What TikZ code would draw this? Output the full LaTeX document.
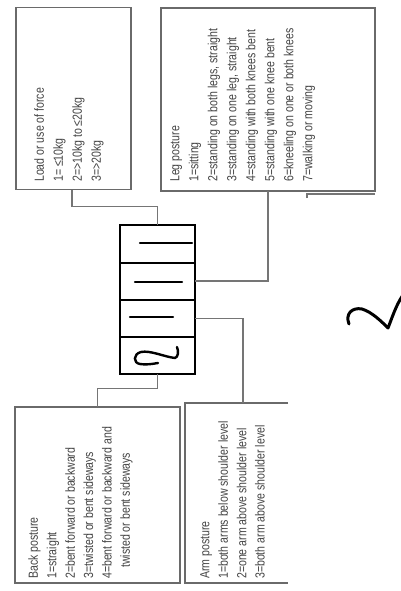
\documentclass[tikz,border=0pt]{standalone}
\usepackage{fontspec}
\newfontfamily\nf{Liberation Sans}[FakeStretch=0.8]
\definecolor{bordergray}{HTML}{6A6A6A}
\definecolor{linegray}{HTML}{757575}
\definecolor{txtgray}{HTML}{454545}
\begin{document}
\begin{tikzpicture}[x=1pt,y=-1pt,
  box/.style={draw=bordergray, line width=1.8pt, inner sep=0pt, outer sep=0pt, rectangle},
  cell/.style={draw=black, line width=2.2pt, inner sep=0pt, outer sep=0pt, rectangle,
    minimum width=75pt, minimum height=37.25pt},
  conn/.style={draw=linegray, line width=1.7pt},
  txt/.style={rotate=90, anchor=north west, inner sep=0pt, align=left, text=txtgray,
    font=\nf\fontsize{13.2}{19}\selectfont},
  txtb/.style={txt, font=\nf\fontsize{13.2}{18.4}\selectfont},
  hand/.style={draw=black, line width=2.4pt, line cap=round, line join=round}]
\useasboundingbox (0,0) rectangle (401,591);
\fill[white] (0,0) rectangle (401,591);
% boxes
\node[box, minimum width=115pt, minimum height=182pt] (load) at (73.5,98.5) {};
\node[box, minimum width=214pt, minimum height=183pt] (leg) at (268,99.5) {};
\node[box, minimum width=165pt, minimum height=176pt] (back) at (97.5,495) {};
\node[inner sep=0pt, outer sep=0pt, minimum width=103pt, minimum height=180pt] (arm) at (236.5,493) {};
\draw[draw=bordergray, line width=1.8pt] (arm.north east) -- (arm.north west) -- (arm.south west) -- (arm.south east);
% texts
\node[txt] (loadtxt) at (34.2,182) {Load or use of force\\1= ≤10kg\\2=>10kg to ≤20kg\\3=>20kg};
\node[txt] (legtxt) at (170.2,182) {Leg posture\\1=sitting\\2=standing on both legs, straight\\3=standing on one leg, straight\\4=standing with both knees bent\\5=standing with one knee bent\\6=kneeling on one or both knees\\7=walking or moving};
\node[txtb] (backtxt) at (28.2,579) {Back posture\\1=straight\\2=bent forward or backward\\3=twisted or bent sideways\\4=bent forward or backward and\\\hspace*{11pt}twisted or bent sideways};
\node[txtb] (armtxt) at (200.2,579) {Arm posture\\1=both arms below shoulder level\\2=one arm above shoulder level\\3=both arm above shoulder level};
% code cells
\node[cell] (c1) at (157.5,244) {};
\node[cell] (c2) at (157.5,281.25) {};
\node[cell] (c3) at (157.5,318.5) {};
\node[cell] (c4) at (157.5,355.75) {};
% connectors
\draw[conn] ([xshift=-1.5pt]load.south) -- ++(0,17) -| (c1.north);
\draw[conn] (c2.east) -| (leg.south);
\draw[conn] (c3.east) -| ([xshift=6.5pt]arm.north);
\draw[conn] (c4.south) -- ++(0,14) -| (back.north);
% small bracket below leg box
\coordinate (brk) at ([shift={(39,7)}]leg.south);
\draw[conn] (brk) -- ++(0,-4) -- ([yshift=-3pt]leg.south east);
% handwritten marks
\draw[hand] ([shift={(-17.5,-1)}]c1.center) -- ([shift={(34.5,-1)}]c1.center);
\draw[hand] ([shift={(-22.5,0.5)}]c2.center) -- ([shift={(24.5,0.5)}]c2.center);
\draw[hand] ([shift={(-27.5,-1.5)}]c3.center) -- ([shift={(15.5,-1.5)}]c3.center);
\draw[hand] (177,347) .. controls (179,352) and (178,357) .. (175,358)
  .. controls (165,357) and (150,350) .. (141,352)
  .. controls (133,354) and (133,363) .. (140,364)
  .. controls (146,365) and (152,364) .. (158,363);
\draw[hand, line width=3pt] (349,324) .. controls (345,314) and (352,307) .. (362,309)
  .. controls (372,312) and (382,322) .. (388,328)
  .. controls (392,318) and (396,305) .. (403,295);
\end{tikzpicture}
\end{document}
